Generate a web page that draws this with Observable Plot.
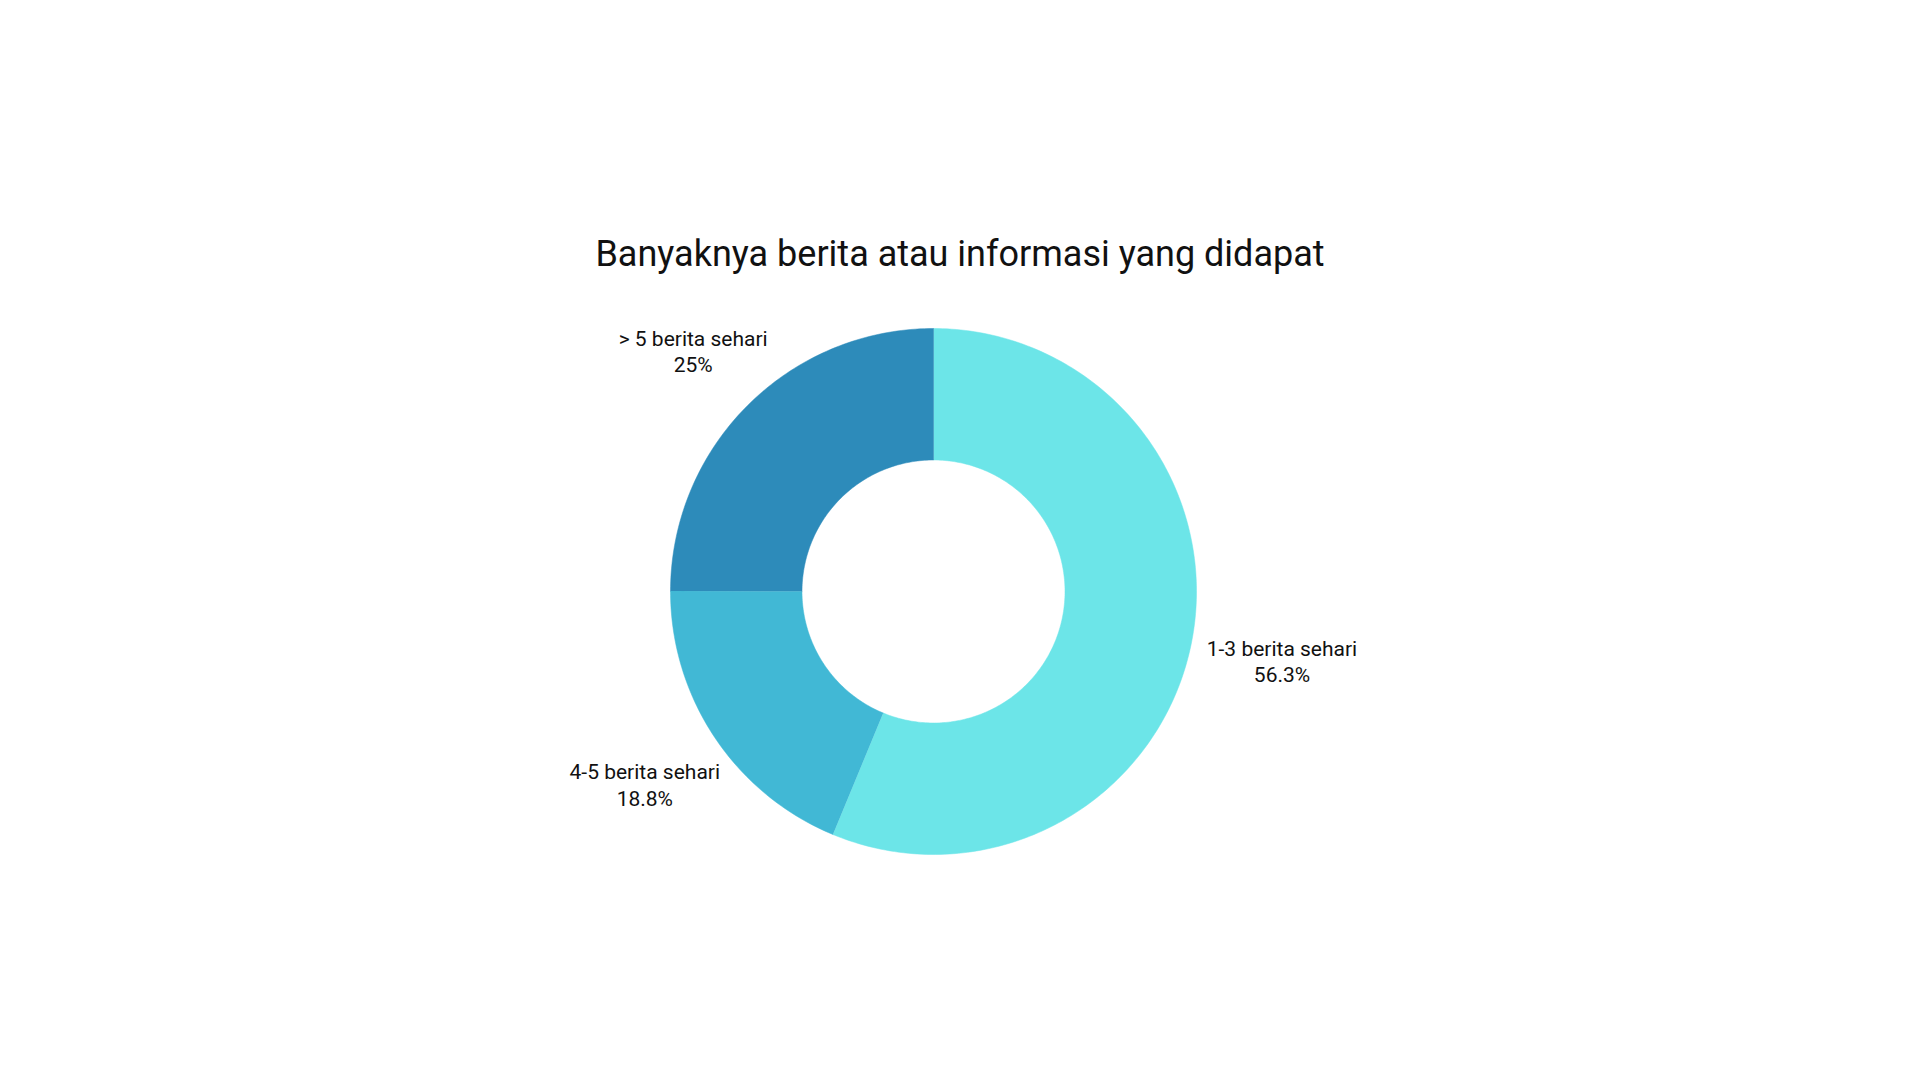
<!DOCTYPE html>
<html>
<head>
<meta charset="utf-8">
<script src="https://cdn.jsdelivr.net/npm/d3@7"></script>
<script src="https://cdn.jsdelivr.net/npm/@observablehq/plot@0.6"></script>
<style>
  html, body { margin: 0; padding: 0; background: #ffffff; }
  #page { position: relative; width: 1920px; height: 1080px; overflow: hidden; background: #fff; }
  #title { position: absolute; left: 0; width: 1920px; top: 233px; text-align: center;
           font-family: Roboto, "Open Sans", sans-serif; font-size: 36px; color: #111; line-height: 1.2; }
  #chart { position: absolute; left: 0; top: 290px; }
</style>
</head>
<body>
<div id="page">
  <div id="title">Banyaknya berita atau informasi yang didapat</div>
  <div id="chart"></div>
</div>
<script>
const categories = ["1-3 berita sehari", "4-5 berita sehari", "> 5 berita sehari"];
const values = [56.3, 18.8, 25];
const valueLabels = ["56.3%", "18.8%", "25%"];
const colors = ["#6CE5E8", "#41B8D5", "#2D8BBA"];

// layout (pixels)
const W = 1920, H = 700;
const cx = 933, cy = 301, R = 263;
const innerRatio = 0.5;

const total = d3.sum(values);
const points = [];
const labelData = [];
let acc = 0;
categories.forEach((cat, i) => {
  const a0 = acc / total * 2 * Math.PI;
  acc += values[i];
  const a1 = acc / total * 2 * Math.PI;
  const n = Math.max(8, Math.ceil((a1 - a0) / (Math.PI / 180)));
  for (let k = 0; k <= n; k++) {
    const a = a0 + (a1 - a0) * k / n;
    points.push({cat, x: Math.sin(a), y: Math.cos(a)});
  }
  for (let k = n; k >= 0; k--) {
    const a = a0 + (a1 - a0) * k / n;
    points.push({cat, x: innerRatio * Math.sin(a), y: innerRatio * Math.cos(a)});
  }
  const am = (a0 + a1) / 2;
  const d = 1.145 + 0.21 * Math.abs(Math.sin(am)); // wider labels sit further out sideways
  labelData.push({cat, x: d * Math.sin(am), y: d * Math.cos(am), text: cat + "\n" + valueLabels[i]});
});

const chart = Plot.plot({
  width: W,
  height: H,
  margin: 0,
  x: {domain: [-cx / R, (W - cx) / R], range: [0, W], axis: null},
  y: {domain: [-(H - cy) / R, cy / R], range: [H, 0], axis: null},
  color: {domain: categories, range: colors},
  style: {fontFamily: "Roboto, 'Open Sans', sans-serif", background: "#fff"},
  marks: [
    Plot.line(points, {x: "x", y: "y", z: "cat", fill: "cat", stroke: "cat", strokeWidth: 0.5, curve: "linear"}),
    Plot.text(labelData, {x: "x", y: "y", text: "text", fontSize: 21, lineHeight: 1.25, fill: "#111", textAnchor: "middle", lineAnchor: "middle"})
  ]
});
document.getElementById("chart").appendChild(chart);
</script>
</body>
</html>
